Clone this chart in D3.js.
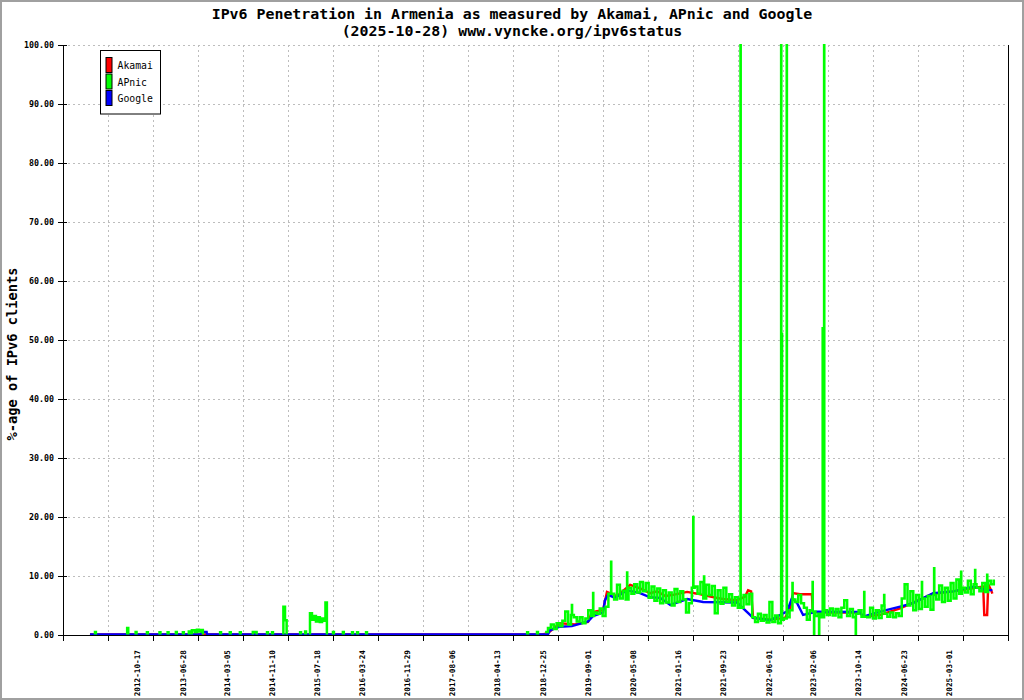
<!DOCTYPE html>
<html lang="en">
<head>
<meta charset="UTF-8">
<title>IPv6 Penetration in Armenia</title>
<script src="https://d3js.org/d3.v7.min.js"></script>
<style>
  body { margin: 0; background: #fff; }
  svg { display: block; }
  text { font-family: "DejaVu Sans Mono", "Liberation Mono", monospace; fill: #000; }
  .grid line { stroke: #bdbdbd; stroke-dasharray: 2,3; shape-rendering: crispEdges; }
  .axis line, .axis path { stroke: #000; shape-rendering: crispEdges; }
  .series { fill: none; stroke-width: 2.4; }
</style>
</head>
<body>
<script>
const width = 1024, height = 700;
const margin = {top: 45, right: 16, bottom: 65, left: 63};

const titleLines = ["IPv6 Penetration in Armenia as measured by Akamai, APnic and Google",
                    "(2025-10-28) www.vyncke.org/ipv6status"];
const seriesNames = ["Akamai", "APnic", "Google"];
const seriesColors = ["#ff0000", "#00ff00", "#0000ff"];

// x labels printed under the axis
const xLabels = ["2012-10-17", "2013-06-28", "2014-03-05", "2014-11-10", "2015-07-18", "2016-03-24",
  "2016-11-29", "2017-08-06", "2018-04-13", "2018-12-25", "2019-09-01", "2020-05-08", "2021-01-16",
  "2021-09-23", "2022-06-01", "2023-02-06", "2023-10-14", "2024-06-23", "2025-03-01"];
const yTicks = [0, 10, 20, 30, 40, 50, 60, 70, 80, 90, 100];

// Akamai (date, %)
const akamai = [
  ["2012-01-30", 0.1], ["2018-12-20", 0.1], ["2019-01-21", 0.3], ["2019-03-28", 2.0], ["2019-06-20", 1.8],
  ["2019-09-01", 2.2], ["2019-09-23", 3.9], ["2019-11-23", 4.2], ["2019-12-15", 7.3], ["2020-02-08", 6.6],
  ["2020-04-22", 8.5], ["2020-06-16", 7.9], ["2020-08-11", 7.1], ["2020-09-20", 7.4], ["2020-11-03", 6.6],
  ["2020-12-17", 6.8], ["2021-03-05", 7.3], ["2021-04-30", 7.0], ["2021-07-12", 6.5], ["2021-09-20", 6.1],
  ["2021-12-08", 5.9], ["2022-01-21", 6.5], ["2022-02-07", 7.6], ["2022-02-24", 7.4], ["2022-03-07", 2.9],
  ["2022-06-10", 2.6], ["2022-09-01", 2.9], ["2022-09-29", 4.5], ["2022-10-15", 7.1], ["2022-11-23", 6.9],
  ["2023-01-28", 6.9], ["2023-02-02", 3.9], ["2023-05-07", 3.8], ["2023-10-23", 3.8], ["2023-11-09", 3.1],
  ["2024-02-12", 3.4], ["2024-06-02", 4.5], ["2024-12-03", 7.0], ["2025-03-24", 7.4], ["2025-07-24", 8.0],
  ["2025-09-07", 8.2], ["2025-09-13", 3.4], ["2025-09-29", 3.4], ["2025-10-05", 8.6], ["2025-10-21", 7.6],
  ["2025-10-28", 7.0]
];

// Google (date, %)
const google = [
  ["2012-01-30", 0.1], ["2013-10-10", 0.1], ["2013-10-12", 0.5], ["2013-11-09", 0.5], ["2013-11-11", 0.1],
  ["2019-01-21", 0.1], ["2019-02-01", 0.8], ["2019-03-28", 1.4], ["2019-06-03", 1.5], ["2019-09-01", 2.3],
  ["2019-09-28", 3.2], ["2019-11-23", 3.8], ["2019-12-04", 5.9], ["2019-12-21", 6.8], ["2020-01-29", 6.3],
  ["2020-04-05", 7.6], ["2020-06-16", 7.1], ["2020-08-11", 6.4], ["2020-10-06", 6.3], ["2020-12-01", 5.1],
  ["2021-03-05", 6.1], ["2021-06-02", 5.6], ["2021-12-08", 5.5], ["2022-02-18", 3.4], ["2022-03-07", 2.9],
  ["2022-06-10", 2.5], ["2022-09-12", 4.0], ["2022-10-10", 6.3], ["2022-11-07", 5.4], ["2022-12-10", 3.4],
  ["2023-02-26", 3.95], ["2023-10-23", 3.9], ["2023-11-09", 3.1], ["2024-02-12", 3.95], ["2024-06-02", 4.8],
  ["2024-08-13", 5.4], ["2024-12-03", 7.1], ["2025-03-24", 7.4], ["2025-07-13", 8.2], ["2025-09-29", 7.6],
  ["2025-10-28", 7.6]
];

// APnic before 2019: only short bursts above zero, each ends back at zero
const apnicBursts = [
  [["2012-02-27", 0.5], ["2012-03-03", 0.1]],
  [["2012-08-24", 1.2], ["2012-08-30", 0.1]],
  [["2012-10-10", 0.5], ["2012-10-15", 0.1]],
  [["2012-12-12", 0.45], ["2012-12-17", 0.1]],
  [["2013-02-20", 0.45], ["2013-02-25", 0.1]],
  [["2013-04-06", 0.45], ["2013-04-11", 0.1]],
  [["2013-05-22", 0.5], ["2013-05-27", 0.1]],
  [["2013-06-30", 0.45], ["2013-07-05", 0.1]],
  [["2013-08-02", 0.6], ["2013-08-07", 0.1]],
  [["2013-08-19", 0.8], ["2013-09-04", 0.5], ["2013-09-16", 0.9], ["2013-09-27", 0.6], ["2013-10-08", 0.85], ["2013-10-19", 0.1]],
  [["2014-01-23", 0.45], ["2014-01-28", 0.1]],
  [["2014-03-18", 0.45], ["2014-03-23", 0.1]],
  [["2014-05-13", 0.45], ["2014-05-18", 0.1]],
  [["2014-07-24", 0.5], ["2014-08-14", 0.1]],
  [["2014-10-11", 0.45], ["2014-10-16", 0.1]],
  [["2014-11-08", 0.45], ["2014-11-13", 0.1]],
  [["2015-01-10", 4.8], ["2015-01-19", 2.5], ["2015-01-28", 0.1]],
  [["2015-04-13", 0.45], ["2015-04-18", 0.1]],
  [["2015-05-11", 0.6], ["2015-05-16", 0.1]],
  [["2015-06-07", 3.7], ["2015-06-18", 2.6], ["2015-06-29", 3.2], ["2015-07-10", 2.3], ["2015-07-21", 3.0],
   ["2015-08-01", 2.2], ["2015-08-13", 2.8], ["2015-08-24", 2.4], ["2015-09-01", 5.5], ["2015-09-09", 0.1]],
  [["2015-10-13", 0.5], ["2015-10-18", 0.1]],
  [["2015-12-07", 0.5], ["2015-12-12", 0.1]],
  [["2016-01-27", 0.45], ["2016-02-01", 0.1]],
  [["2016-02-24", 0.45], ["2016-02-29", 0.1]],
  [["2016-04-14", 0.45], ["2016-04-19", 0.1]],
  [["2018-09-27", 0.45], ["2018-10-02", 0.1]],
  [["2018-11-21", 0.5], ["2018-11-26", 0.1]]
];

// APnic from 2019-01-05 on, one typical reading every 16 days
const apnicLateStart = "2019-01-05";
const apnicLateStep = 16;
const apnicLate = [
  0.5, 1.2, 1.8, 1.0, 2.0, 1.5,
  2.4, 4.0, 1.8, 3.4, 3.0, 2.3, 3.0, 2.0, 2.8, 4.2,
  3.2, 3.8, 3.6, 4.5, 3.2, 4.8,
  7.0, 7.5, 6.0, 8.5, 6.2, 7.5, 6.0, 8.0, 7.0, 8.6, 7.2, 9.0,
  7.4, 8.8, 6.3, 8.2, 5.8, 7.9, 5.4, 7.6, 5.5, 7.2, 5.0, 7.8, 5.6, 7.4, 6.0, 3.8, 5.4, 8.0,
  8.2, 7.0, 9.0, 6.2, 8.5, 6.8, 8.3, 3.7, 7.6, 5.3, 8.0, 5.6, 6.9,
  5.0, 6.4, 4.6, 5.8, 6.8, 5.2, 7.0,
  3.0, 2.2, 3.6, 2.4, 3.4, 2.1, 5.6, 2.2, 3.3, 2.0,
  2.6, 2.8, 3.0, 4.2, 6.0, 5.6, 6.8, 5.4, 4.6, 2.6, 4.2, 4.0,
  3.2, 3.6, 3.0, 4.2, 3.4, 4.5, 3.3, 4.4, 3.0, 4.6, 5.9, 3.2, 4.4, 3.0, 3.6, 4.2, 3.1, 4.0, 3.0, 4.6,
  2.8, 4.2, 2.9, 5.0, 3.6, 3.1,
  3.8, 3.0, 3.7, 3.2, 6.2, 8.6, 5.0, 7.4, 4.2, 6.8, 4.4, 6.2, 4.8, 6.6, 4.3, 6.8,
  6.0, 8.4, 5.6, 8.0, 5.8, 8.8, 6.2, 9.4, 7.0, 8.0, 7.2, 9.2, 6.9, 8.6, 8.0, 7.4, 8.8, 7.3, 9.2, 8.6, 9.4
];

// APnic single-day outliers (date, %)
const apnicOutliers = [
  ["2019-06-03", 5.1], ["2019-09-29", 7.1], ["2020-01-07", 12.4], ["2020-04-05", 10.6], ["2021-04-08", 20],
  ["2021-06-07", 9.9], ["2021-12-27", 100], ["2022-08-10", 100], ["2022-08-14", 51], ["2022-09-10", 100],
  ["2022-10-12", 8.8], ["2023-02-01", 9.0], ["2023-02-09", 0.0], ["2023-03-09", 0.0], ["2023-03-29", 52],
  ["2023-04-06", 100], ["2023-09-29", 0.0], ["2023-11-15", 7.3], ["2024-03-05", 6.8], ["2024-10-01", 9.0],
  ["2024-12-08", 11.3], ["2025-05-07", 10.7], ["2025-07-24", 11.0], ["2025-09-29", 10.2]
];

const parse = d3.utcParse("%Y-%m-%d");
const plotW = width - margin.left - margin.right;
const plotH = height - margin.top - margin.bottom;

const x = d3.scaleUtc()
  .domain([parse("2011-09-02"), parse("2026-01-23")])
  .range([margin.left, width - margin.right]);
const y = d3.scaleLinear()
  .domain([0, 100])
  .range([height - margin.bottom, margin.top]);

const svg = d3.select("body").append("svg")
  .attr("width", width)
  .attr("height", height);

svg.append("rect")
  .attr("x", 1).attr("y", 1)
  .attr("width", width - 2).attr("height", height - 2)
  .attr("fill", "#fff").attr("stroke", "#a0a0a0").attr("stroke-width", 2);

// title
svg.selectAll(".title")
  .data(titleLines)
  .enter().append("text")
  .attr("class", "title")
  .attr("x", width / 2)
  .attr("y", (d, i) => 18.5 + i * 17)
  .attr("text-anchor", "middle")
  .style("font-size", "14.9px")
  .style("font-weight", "bold")
  .text(d => d);

// grid
const gridCount = 21;
const gridX = d3.range(0, gridCount + 1).map(k => margin.left + k * plotW / gridCount);
const gGrid = svg.append("g").attr("class", "grid");
gGrid.selectAll(".gy")
  .data(yTicks.filter(v => v > 0))
  .enter().append("line")
  .attr("x1", margin.left).attr("x2", width - margin.right)
  .attr("y1", d => Math.round(y(d)) + 0.5).attr("y2", d => Math.round(y(d)) + 0.5);
gGrid.selectAll(".gx")
  .data(gridX.slice(1, gridCount))
  .enter().append("line")
  .attr("x1", d => Math.round(d) + 0.5).attr("x2", d => Math.round(d) + 0.5)
  .attr("y1", margin.top).attr("y2", height - margin.bottom);

// series
svg.append("clipPath").attr("id", "plot-clip")
  .append("rect")
  .attr("x", margin.left).attr("y", margin.top - 1)
  .attr("width", plotW).attr("height", plotH + 2);

const toPts = arr => arr.map(d => [parse(d[0]), d[1]]);

// APnic points: bursts separated by gaps, then the regular readings with the outliers merged in
const apnic = [];
apnicBursts.forEach(b => {
  apnic.push([parse(b[0][0]), 0.1]);
  b.forEach(d => apnic.push([parse(d[0]), d[1]]));
  apnic.push(null);
});
const lateStart = parse(apnicLateStart);
const late = apnicLate.map((v, i) => [d3.utcDay.offset(lateStart, i * apnicLateStep), v]);
apnicOutliers.forEach(o => {
  const d = parse(o[0]);
  const idx = Math.floor(d3.utcDay.count(lateStart, d) / apnicLateStep);
  late.push([d, o[1]]);
  late.push([d3.utcDay.offset(d, 1), apnicLate[idx]]);
});
late.sort((a, b) => a[0] - b[0]);
late.forEach(p => apnic.push(p));

const lineLinear = d3.line().x(d => x(d[0])).y(d => y(d[1]));
const lineStep = d3.line()
  .defined(d => d !== null)
  .x(d => x(d[0])).y(d => y(d[1]))
  .curve(d3.curveStepAfter);

const gSeries = svg.append("g").attr("clip-path", "url(#plot-clip)");
gSeries.append("path").attr("class", "series")
  .attr("stroke", seriesColors[0]).attr("d", lineLinear(toPts(akamai)));
gSeries.append("path").attr("class", "series")
  .attr("stroke", seriesColors[2]).attr("d", lineLinear(toPts(google)));
gSeries.append("path").attr("class", "series")
  .attr("stroke", seriesColors[1]).style("stroke-width", 2.5).attr("d", lineStep(apnic));

// axes
const gAxis = svg.append("g").attr("class", "axis");
gAxis.append("line")
  .attr("x1", margin.left + 0.5).attr("x2", margin.left + 0.5)
  .attr("y1", margin.top).attr("y2", height - margin.bottom);
gAxis.append("line")
  .attr("x1", width - margin.right + 0.5).attr("x2", width - margin.right + 0.5)
  .attr("y1", margin.top).attr("y2", height - margin.bottom);
gAxis.append("line")
  .attr("x1", margin.left).attr("x2", width - margin.right + 1)
  .attr("y1", height - margin.bottom + 0.5).attr("y2", height - margin.bottom + 0.5);

gAxis.selectAll(".ytick")
  .data(yTicks)
  .enter().append("line")
  .attr("x1", margin.left - 5).attr("x2", margin.left + 4)
  .attr("y1", d => Math.round(y(d)) + 0.5).attr("y2", d => Math.round(y(d)) + 0.5);
svg.selectAll(".ylabel")
  .data(yTicks)
  .enter().append("text")
  .attr("x", margin.left - 9)
  .attr("y", d => y(d) + 3)
  .attr("text-anchor", "end")
  .style("font-size", "8.3px")
  .style("font-weight", "bold")
  .text(d => d3.format(".2f")(d));

gAxis.selectAll(".xtick")
  .data(gridX)
  .enter().append("line")
  .attr("x1", d => Math.round(d) + 0.5).attr("x2", d => Math.round(d) + 0.5)
  .attr("y1", height - margin.bottom).attr("y2", height - margin.bottom + 6);
svg.selectAll(".xlabel")
  .data(xLabels)
  .enter().append("text")
  .attr("transform", d => `translate(${x(parse(d)) + 3},${height - margin.bottom + 15}) rotate(-90)`)
  .attr("text-anchor", "end")
  .style("font-size", "7.7px")
  .style("font-weight", "bold")
  .text(d => d);

svg.append("text")
  .attr("transform", `translate(17,354) rotate(-90)`)
  .attr("text-anchor", "middle")
  .style("font-size", "13.7px")
  .style("font-weight", "bold")
  .text("%-age of IPv6 clients");

// legend
const gLegend = svg.append("g").attr("transform", "translate(100.5,50.5)");
gLegend.append("rect")
  .attr("width", 60).attr("height", 63.5)
  .attr("fill", "#fff").attr("stroke", "#000");
const items = gLegend.selectAll(".item")
  .data(seriesNames)
  .enter().append("g")
  .attr("transform", (d, i) => `translate(0,${7 + i * 16.5})`);
items.append("rect")
  .attr("x", 5.5).attr("width", 6).attr("height", 15)
  .attr("fill", (d, i) => seriesColors[i]).attr("stroke", "#000");
items.append("text")
  .attr("x", 17).attr("y", 11.5)
  .style("font-size", "9.8px")
  .text(d => d);
</script>
</body>
</html>
